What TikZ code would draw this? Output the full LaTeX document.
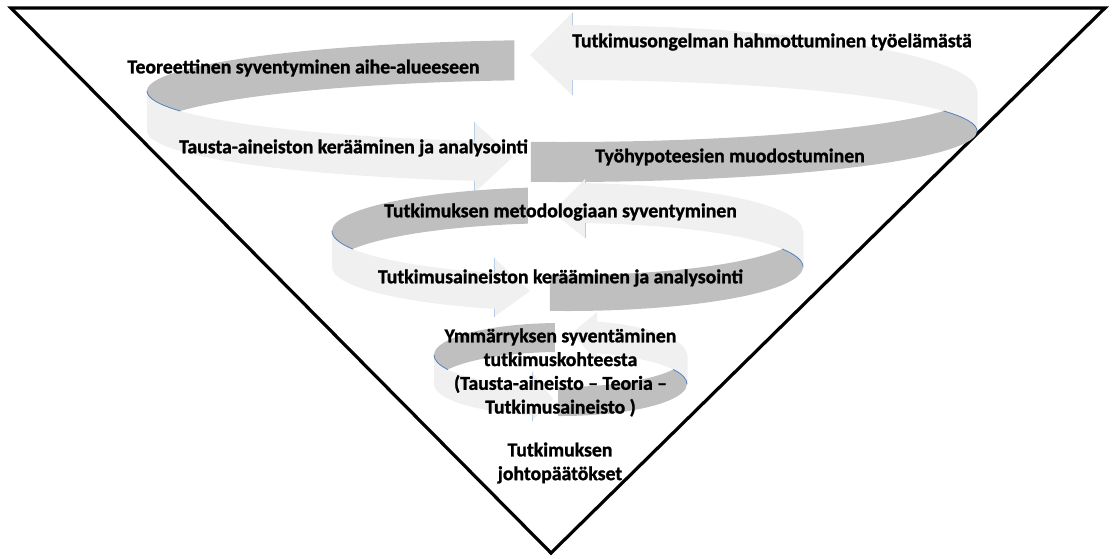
\documentclass[tikz,border=0pt]{standalone}
\usepackage{fontspec}
\setmainfont{Carlito}[BoldFeatures={FakeBold=1.2}]
\definecolor{ribbondark}{HTML}{BFBFBF}
\definecolor{ribbonlight}{HTML}{F0F0F0}
\definecolor{ribbonedge}{HTML}{4F81BD}
\tikzset{
every picture/.style={line cap=round,line join=round},
funnel/.style={draw=black, line width=2.4pt, line join=miter},
dark band/.style={fill=ribbondark},
light band/.style={fill=ribbonlight},
twist edge/.style={draw=ribbonedge, line width=0.6pt},
notch edge/.style={draw=ribbonedge!40, line width=0.4pt},
ribbon label/.style={
  font=\bfseries\fontsize{14.8}{17.8}\selectfont,
  text=black,
  align=center,
  inner sep=0pt
}
}

\begin{document}
\begin{tikzpicture}[x=0.75pt,y=-0.75pt]
\useasboundingbox (0,0) rectangle (1113,558);
% funnel
\draw[funnel] (11,8) -- (1105,8) -- (551,553) -- cycle;

% outer ribbon
\begin{scope}[shift={(562,91)}]
\fill[dark band] (180:415 and 51) arc[start angle=180, end angle=263.4, x radius=415, y radius=51]
  -- ++(0,40) arc[start angle=263.4, end angle=180, x radius=415, y radius=51] -- cycle;
\fill[dark band] (0:415 and 51) arc[start angle=0, end angle=94.3, x radius=415, y radius=51]
  -- ++(0,40) arc[start angle=94.3, end angle=0, x radius=415, y radius=51] -- cycle;
\fill[light band] (102.2:415 and 51) arc[start angle=102.2, end angle=180, x radius=415, y radius=51]
  -- ++(0,40) arc[start angle=180, end angle=102.2, x radius=415, y radius=51]
  -- (-88,102) -- (-49,66) -- (-88,31) -- cycle;
\fill[light band] (271.4:415 and 66) arc[start angle=271.4, end angle=360, x radius=415, y radius=66]
  -- ++(0,40) arc[start angle=360, end angle=271.4, x radius=415, y radius=51]
  -- (10,4) -- (-32,-36) -- (10,-78) -- cycle;
\draw[twist edge] (180:415 and 51) arc[start angle=180, end angle=156.9, x radius=415, y radius=51];
\draw[twist edge] (0,40) ++(336.9:415 and 51) arc[start angle=336.9, end angle=360, x radius=415, y radius=51];
\draw[notch edge] (-88,31) -- (-88,50) (-88,90) -- (-88,102);
\draw[notch edge] (10,-78) -- (10,-66) (10,-11) -- (10,4);
\end{scope}

% middle ribbon
\begin{scope}[shift={(567.5,231)}]
\fill[dark band] (180:235.5 and 44) arc[start angle=180, end angle=260.3, x radius=235.5, y radius=44]
  -- ++(0,36) arc[start angle=260.3, end angle=180, x radius=235.5, y radius=44] -- cycle;
\fill[dark band] (0:235.5 and 44) arc[start angle=0, end angle=94.3, x radius=235.5, y radius=44]
  -- ++(0,36) arc[start angle=94.3, end angle=0, x radius=235.5, y radius=44] -- cycle;
\fill[light band] (108.2:235.5 and 44) arc[start angle=108.2, end angle=180, x radius=235.5, y radius=44]
  -- ++(0,36) arc[start angle=180, end angle=108.2, x radius=235.5, y radius=44]
  -- (-73.5,86) -- (-37.5,60) -- (-73.5,27) -- cycle;
\fill[light band] (274.3:235.5 and 48) arc[start angle=274.3, end angle=360, x radius=235.5, y radius=48]
  -- ++(0,36) arc[start angle=360, end angle=274.3, x radius=235.5, y radius=44]
  -- (17.5,7) -- (-15.5,-19) -- (17.5,-52) -- cycle;
\draw[twist edge] (180:235.5 and 44) arc[start angle=180, end angle=155.85, x radius=235.5, y radius=44];
\draw[twist edge] (0,36) ++(335.85:235.5 and 44) arc[start angle=335.85, end angle=360, x radius=235.5, y radius=44];
\draw[notch edge] (-73.5,27) -- (-73.5,42) (-73.5,78) -- (-73.5,86);
\draw[notch edge] (17.5,-52) -- (17.5,-48) (17.5,-8) -- (17.5,7);
\end{scope}

% inner ribbon
\begin{scope}[shift={(560.5,355)}]
\fill[dark band] (180:126.5 and 32) arc[start angle=180, end angle=267.5, x radius=126.5, y radius=32]
  -- ++(0,29) arc[start angle=267.5, end angle=180, x radius=126.5, y radius=32] -- cycle;
\fill[dark band] (0:126.5 and 32) arc[start angle=0, end angle=91.1, x radius=126.5, y radius=32]
  -- ++(0,29) arc[start angle=91.1, end angle=0, x radius=126.5, y radius=32] -- cycle;
\fill[light band] (103:126.5 and 32) arc[start angle=103, end angle=180, x radius=126.5, y radius=32]
  -- ++(0,29) arc[start angle=180, end angle=103, x radius=126.5, y radius=32]
  -- (-28.5,66) -- (-7.5,44) -- (-28.5,17) -- cycle;
\fill[light band] (286.8:126.5 and 35) arc[start angle=286.8, end angle=360, x radius=126.5, y radius=35]
  -- ++(0,29) arc[start angle=360, end angle=286.8, x radius=126.5, y radius=32]
  -- (36.5,7) -- (11.5,-22) -- (36.5,-43) -- cycle;
\draw[twist edge] (180:126.5 and 32) arc[start angle=180, end angle=153.1, x radius=126.5, y radius=32];
\draw[twist edge] (0,29) ++(333.1:126.5 and 32) arc[start angle=333.1, end angle=360, x radius=126.5, y radius=32];
\draw[notch edge] (-28.5,17) -- (-28.5,31) (-28.5,60) -- (-28.5,66);
\end{scope}

% labels
\node[ribbon label] (ongelma) at (772,42) {Tutkimusongelman hahmottuminen työelämästä};
\node[ribbon label] (teoria) at (303.5,68) {Teoreettinen syventyminen aihe-alueeseen};
\node[ribbon label] (tausta) at (353.5,148) {Tausta-aineiston kerääminen ja analysointi};
\node[ribbon label] (hypoteesi) at (730,157) {Työhypoteesien muodostuminen};
\node[ribbon label] (metodi) at (560.5,212) {Tutkimuksen metodologiaan syventyminen};
\node[ribbon label] (aineisto) at (560.5,278) {Tutkimusaineiston kerääminen ja analysointi};
\node[ribbon label] (ymmarrys) at (560.5,372.5) {Ymmärryksen syventäminen\\tutkimuskohteesta\\(Tausta-aineisto – Teoria –\\Tutkimusaineisto )};
\node[ribbon label] (johto) at (560,463) {Tutkimuksen\\johtopäätökset};
\end{tikzpicture}
\end{document}
